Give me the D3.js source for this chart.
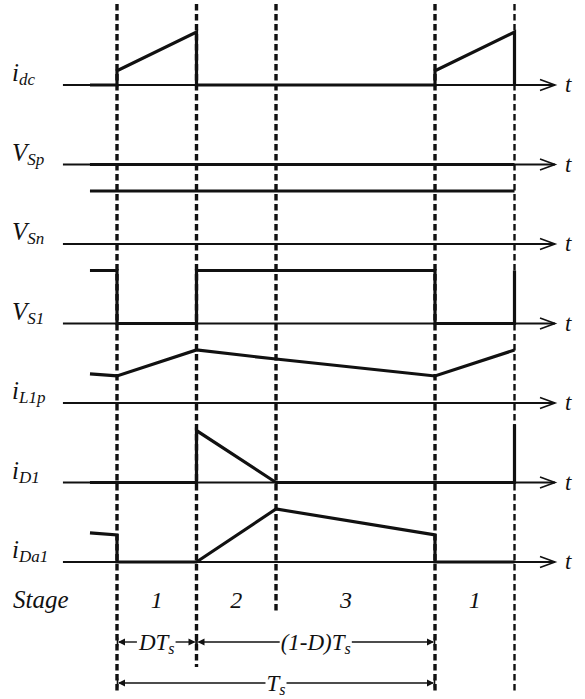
<!DOCTYPE html>
<html>
<head>
<meta charset="utf-8">
<script src="https://cdn.jsdelivr.net/npm/d3@7"></script>
<style>
  html, body { margin: 0; padding: 0; background: #fff; }
  svg { display: block; }
</style>
</head>
<body>
<svg id="chart" width="585" height="699" font-family="'Liberation Serif', 'Times New Roman', Times, serif" font-style="italic"></svg>
<script>
// ---------- data (time in units of Ts, amplitude normalised) ----------
const signals   = ["idc", "VSp", "VSn", "VS1", "iL1p", "iD1", "iDa1"];
const labelMain = ["i", "V", "V", "V", "i", "i", "i"];
const labelSub  = ["dc", "Sp", "Sn", "S1", "L1p", "D1", "Da1"];

const boundaries = [0, 0.25, 0.5, 1.0, 1.25];   // dashed stage boundaries

const idcWave  = [[-0.085,0],[0,0],[0,0.27],[0.25,1],[0.25,0],[1,0],[1,0.27],[1.25,1],[1.25,0]];
const vspWave  = [[-0.085,0],[1.25,0]];
const vsnWave  = [[-0.085,1],[1.25,1]];
const vs1Wave  = [[-0.085,1],[0,1],[0,0],[0.25,0],[0.25,1],[1,1],[1,0],[1.25,0],[1.25,1]];
const il1pWave = [[-0.085,0.55],[0,0.51],[0.25,1],[0.5,0.83],[1,0.51],[1.25,1]];
const id1Wave  = [[-0.085,0],[0.25,0],[0.25,0.98],[0.5,0],[1.25,0],[1.25,1.1]];
const ida1Wave = [[-0.085,0.55],[0,0.51],[0,0],[0.25,0],[0.5,1],[1,0.51],[1,0],[1.25,0]];
const waves = [idcWave, vspWave, vsnWave, vs1Wave, il1pWave, id1Wave, ida1Wave];

const stageLabels  = ["1", "2", "3", "1"];
const stageCenters = [0.125, 0.375, 0.72, 1.125];

const intervalFrom  = [0, 0.25, 0];
const intervalTo    = [0.25, 1, 1];
const intervalMain  = ["DT", "(1-D)T", "T"];
const intervalSub   = ["s", "s", "s"];
const intervalRow   = [0, 0, 1];

// ---------- layout ----------
const svg = d3.select("#chart");
const ink = "#111";
const x = d3.scaleLinear().domain([0, 1]).range([117, 435]);
const row = d3.scalePoint().domain(signals).range([85, 562]);
const amp = d3.scaleLinear().domain([0, 1]).range([0, -53]);
const axisStart = x(-0.17), axisEnd = 555;

// dashed vertical lines
const dashBottoms = [694, 667, 613, 694, 694];
const dashWidths = [3.4, 3.4, 3.4, 3.4, 2.4];
svg.append("g").selectAll("line").data(boundaries).join("line")
  .attr("x1", d => x(d)).attr("x2", d => x(d))
  .attr("y1", 4).attr("y2", (d, i) => dashBottoms[i])
  .attr("stroke", ink).attr("stroke-width", (d, i) => dashWidths[i])
  .attr("stroke-dasharray", "6.5,3.5");

// axes with open arrow heads
const axes = svg.append("g");
signals.forEach((s, i) => {
  const y = row(s);
  axes.append("line").attr("x1", axisStart).attr("x2", axisEnd)
    .attr("y1", y).attr("y2", y).attr("stroke", ink).attr("stroke-width", 1.8);
  axes.append("path")
    .attr("d", `M${axisEnd - 15},${y - 5.5}L${axisEnd},${y}L${axisEnd - 15},${y + 5.5}`)
    .attr("fill", "none").attr("stroke", ink).attr("stroke-width", 1.6);
  axes.append("text").attr("x", 565).attr("y", y + 7)
    .attr("font-size", 23).attr("fill", ink).text("t");
  // label
  const t = axes.append("text").attr("x", 12).attr("y", y - 4)
    .attr("font-size", 25).attr("fill", ink);
  t.append("tspan").text(labelMain[i]);
  t.append("tspan").attr("font-size", 17).attr("dy", 4).text(labelSub[i]);
});

// waveforms
const line = d3.line();
const wg = svg.append("g");
signals.forEach((s, i) => {
  const y0 = row(s);
  wg.append("path")
    .attr("d", line(waves[i].map(p => [x(p[0]), y0 + amp(p[1])])))
    .attr("fill", "none").attr("stroke", ink).attr("stroke-width", 3.2)
    .attr("stroke-linejoin", "miter").attr("stroke-linecap", "butt");
});

// stage row
const stageY = 608;
svg.append("text").attr("x", 13).attr("y", stageY).attr("font-size", 25)
  .attr("fill", ink).text("Stage");
svg.append("g").selectAll("text").data(stageLabels).join("text")
  .attr("x", (d, i) => x(stageCenters[i])).attr("y", stageY)
  .attr("text-anchor", "middle").attr("font-size", 24).attr("fill", ink).text(d => d);

// interval annotations
const rowYs = [642, 683];
const ig = svg.append("g");
intervalMain.forEach((m, i) => {
  const y = rowYs[intervalRow[i]];
  const x1 = x(intervalFrom[i]), x2 = x(intervalTo[i]);
  const cx = (x1 + x2) / 2;
  const t = ig.append("text").attr("x", cx).attr("y", y + 8)
    .attr("text-anchor", "middle").attr("font-size", 23).attr("fill", ink);
  t.append("tspan").text(m);
  t.append("tspan").attr("font-size", 16).attr("dy", 4).text(intervalSub[i]);
  const bb = t.node().getBBox();
  const l = bb.x - 1, r = bb.x + bb.width + 1;
  ig.append("line").attr("x1", x1 + 2).attr("x2", l).attr("y1", y).attr("y2", y)
    .attr("stroke", ink).attr("stroke-width", 1.4);
  ig.append("line").attr("x1", r).attr("x2", x2 - 2).attr("y1", y).attr("y2", y)
    .attr("stroke", ink).attr("stroke-width", 1.4);
  // end bars and arrow heads
  [[x1, 1], [x2, -1]].forEach(([xe, dir]) => {
    ig.append("line").attr("x1", xe + dir * 0.5).attr("x2", xe + dir * 0.5)
      .attr("y1", y - 4.5).attr("y2", y + 4.5).attr("stroke", ink).attr("stroke-width", 1.6);
    ig.append("path")
      .attr("d", `M${xe + dir * 1},${y}L${xe + dir * 8},${y - 3.5}L${xe + dir * 8},${y + 3.5}Z`)
      .attr("fill", ink);
  });
});
</script>
</body>
</html>
